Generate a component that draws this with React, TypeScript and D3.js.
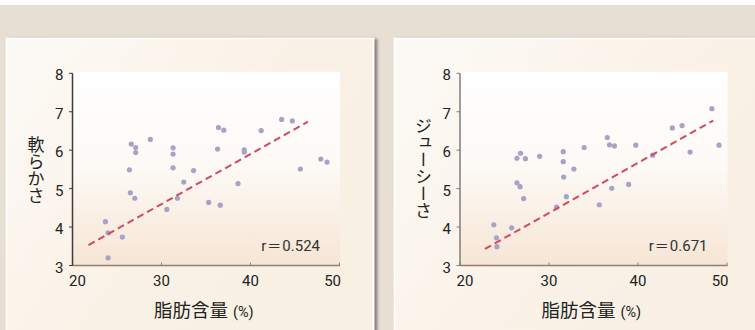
import React from "react";
import * as d3 from "d3";

const xTicks = [20, 30, 40, 50];
const yTicks = [3, 4, 5, 6, 7, 8];

const softFat = [23.7, 24.0, 24.0, 25.6, 26.6, 27.1, 27.1, 26.4, 26.5, 27.0, 28.75, 31.3, 31.3, 31.3, 30.6, 31.8, 32.5, 33.6, 35.3, 36.6, 36.4, 37.0, 36.3, 38.6, 39.3, 39.3, 41.2, 43.5, 44.7, 45.6, 47.9, 48.6];
const softVal = [4.14, 3.85, 3.2, 3.74, 6.16, 6.07, 5.94, 5.49, 4.89, 4.75, 6.28, 6.06, 5.9, 5.54, 4.46, 4.75, 5.17, 5.47, 4.64, 4.57, 6.59, 6.52, 6.03, 5.13, 6.01, 5.95, 6.51, 6.8, 6.76, 5.51, 5.77, 5.69];

const juicyFat = [23.8, 24.1, 24.15, 25.8, 26.4, 26.8, 27.35, 26.4, 26.75, 27.15, 28.95, 31.6, 31.6, 31.65, 32.8, 30.85, 31.95, 33.95, 35.65, 36.55, 36.8, 37.35, 37.05, 38.95, 39.75, 41.65, 43.85, 44.95, 45.85, 48.3, 49.1];
const juicyVal = [4.06, 3.72, 3.49, 3.98, 5.79, 5.92, 5.78, 5.15, 5.05, 4.74, 5.84, 5.96, 5.7, 5.3, 5.51, 4.52, 4.79, 6.07, 4.58, 6.33, 6.14, 6.11, 5.01, 5.11, 6.13, 5.87, 6.58, 6.64, 5.95, 7.08, 6.13];

const softTrend: [number, number][] = [[21.8, 3.53], [46.45, 6.74]];
const juicyTrend: [number, number][] = [[22.8, 3.43], [48.45, 6.77]];

const yTitles = ["軟らかさ", "ジューシーさ"];
const rValues = ["0.524", "0.671"];
const xTitle = "脂肪含量";
const xUnit = "(%)";

const CJK = "'Noto Sans CJK JP', 'Noto Sans', sans-serif";
const NUM = "Roboto, 'Liberation Sans', sans-serif";

type ChartProps = {
  ox: number;
  fat: number[];
  val: number[];
  trend: [number, number][];
  yTitle: string;
  rValue: string;
  yAxisColor: string;
};

function Chart({ ox, fat, val, trend, yTitle, rValue, yAxisColor }: ChartProps) {
  const left = ox;
  const right = ox + 267;
  const top = 73.3;
  const bottom = 265.5;
  const x = d3.scaleLinear().domain([20, 50]).range([left, right]);
  const y = d3.scaleLinear().domain([3, 8]).range([bottom, top]);
  const line = d3
    .line<[number, number]>()
    .x((d) => x(d[0]))
    .y((d) => y(d[1]));
  return (
    <g>
      <rect x={left} y={top - 1.5} width={right - left + 0.5} height={bottom - top + 1.5} fill="url(#plotGrad)" />
      {fat.map((f, i) => (
        <circle key={i} cx={x(f)} cy={y(val[i])} r={2.6} fill="#a7a2c7" />
      ))}
      <path d={line(trend) || ""} fill="none" stroke="#d0495d" strokeWidth={2} strokeDasharray="7 4.2" />
      {/* x axis */}
      <line x1={left} x2={right + 0.5} y1={bottom} y2={bottom} stroke="#8e8075" strokeWidth={1.4} />
      {xTicks.map((t) => (
        <line key={t} x1={x(t)} x2={x(t)} y1={bottom} y2={bottom - 3} stroke="#8e8075" strokeWidth={1} />
      ))}
      {xTicks.map((t, i) => {
        const first = i === 0;
        const last = i === xTicks.length - 1;
        return (
          <text
            key={t}
            x={first ? x(t) - 3.5 : last ? x(t) + 1.5 : x(t)}
            y={285.7}
            textAnchor={first ? "start" : last ? "end" : "middle"}
            fontFamily={NUM}
            fontSize={15}
            fill="#222"
          >
            {t}
          </text>
        );
      })}
      {/* y axis */}
      <line x1={left} x2={left} y1={top} y2={bottom} stroke={yAxisColor} strokeWidth={1.5} />
      {yTicks.map((t) => (
        <line key={t} x1={left - 3.5} x2={left} y1={y(t)} y2={y(t)} stroke={yAxisColor} strokeWidth={1} />
      ))}
      {yTicks.map((t) => (
        <text
          key={t}
          x={left - 9}
          y={y(t) + 7}
          textAnchor="end"
          fontFamily={NUM}
          fontSize={15}
          fill="#222"
        >
          {t}
        </text>
      ))}
      <text
        x={right - 19.5}
        y={250.7}
        textAnchor="end"
        fontFamily={NUM}
        fontSize={15}
        fill="#333"
      >
        r
        <tspan fontFamily={CJK} fontSize={14} dx={1}>＝</tspan>
        <tspan dx={1}>{rValue}</tspan>
      </text>
      {/* titles */}
      <text
        x={ox - 36.5}
        y={yTitle.length > 4 ? 168.5 : 170}
        textAnchor="middle"
        fontFamily={CJK}
        fontSize={17}
        fill="#222"
        style={{ writingMode: "vertical-rl" }}
      >
        {yTitle}
      </text>
      <text x={ox + 81.5} y={316.5} fontFamily={CJK} fontSize={18.5} fill="#222">
        {xTitle}
        <tspan dx={5} fontSize={14.5} fontFamily={NUM}>
          {xUnit}
        </tspan>
      </text>
    </g>
  );
}

export default function App() {
  return (
    <svg
      width={755}
      height={330}
      style={{ position: "absolute", left: 0, top: 0, display: "block" }}
    >
      <defs>
        <linearGradient id="panelGrad" x1="0" y1="0" x2="1" y2="0.6">
          <stop offset="0" stopColor="#fcfaf6" />
          <stop offset="0.6" stopColor="#faf1e6" />
          <stop offset="1" stopColor="#f9f0e4" />
        </linearGradient>
        <linearGradient id="panelGrad2" x1="0" y1="0" x2="1" y2="0.6">
          <stop offset="0" stopColor="#fcfaf6" />
          <stop offset="0.6" stopColor="#faf2e8" />
          <stop offset="1" stopColor="#f9efe3" />
        </linearGradient>
        <linearGradient id="plotGrad" x1="0" y1="0" x2="0" y2="1">
          <stop offset="0" stopColor="#ffffff" />
          <stop offset="0.5" stopColor="#fdf9f5" />
          <stop offset="1" stopColor="#f6e5d4" />
        </linearGradient>
        <filter id="shadow" x="-5%" y="-5%" width="115%" height="115%">
          <feDropShadow dx={3} dy={1} stdDeviation={1.4} floodColor="#000" floodOpacity={0.45} />
        </filter>
      </defs>
      <rect x={0} y={0} width={755} height={330} fill="#ffffff" />
      <rect x={0} y={5} width={755} height={325} fill="#e7dfd3" />
      <rect x={6.5} y={38.5} width={367} height={300} fill="url(#panelGrad)" stroke="#ffffff" strokeWidth={1.5} filter="url(#shadow)" />
      <rect x={394.5} y={38.5} width={370} height={300} fill="url(#panelGrad2)" stroke="#ffffff" strokeWidth={1.5} filter="url(#shadow)" />
      <Chart ox={72.5} fat={softFat} val={softVal} trend={softTrend} yTitle={yTitles[0]} rValue={rValues[0]} yAxisColor="#3c3c3c" />
      <Chart ox={460} fat={juicyFat} val={juicyVal} trend={juicyTrend} yTitle={yTitles[1]} rValue={rValues[1]} yAxisColor="#7d7d7d" />
    </svg>
  );
}
